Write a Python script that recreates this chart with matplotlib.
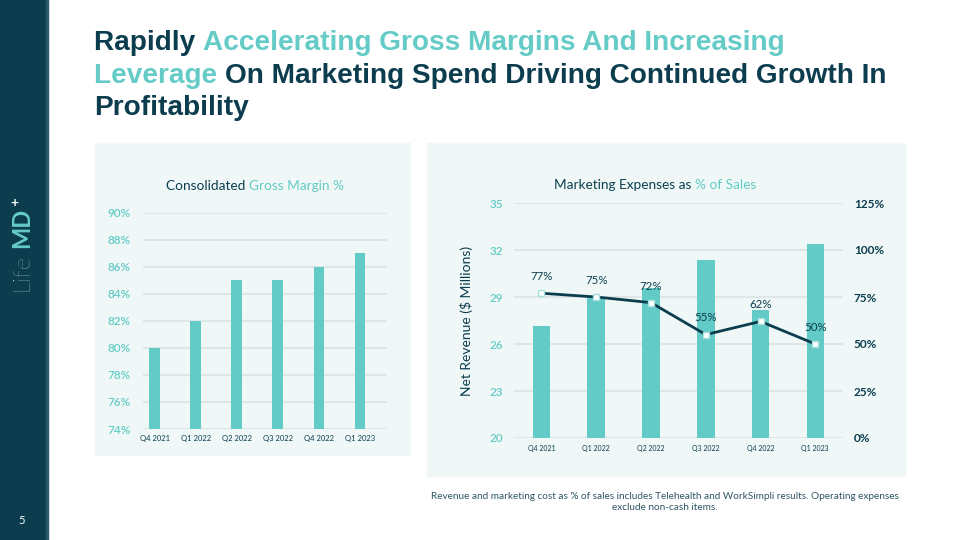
import numpy as np
import matplotlib.pyplot as plt
from matplotlib.patches import Rectangle

plt.rcParams['font.family'] = ['Lato', 'DejaVu Sans']

# data
quarters = ['Q4 2021', 'Q1 2022', 'Q2 2022', 'Q3 2022', 'Q4 2022', 'Q1 2023']
gross_margin = [80, 82, 85, 85, 86, 87]
net_revenue = [27.15, 29.0, 29.6, 31.35, 28.2, 32.4]
mkt_pct = [77, 75, 72, 55, 62, 50]

DARK = '#0b3d4f'
TEAL = '#64cbc6'
BAR = '#63cbc7'
PANEL = '#eff8f7'
GRID = '#dfe6e6'

fig = plt.figure(figsize=(9.6, 5.4), dpi=100)
fig.patch.set_facecolor('white')
W, H = 960, 540


def fx(x):
    return x / W


def fy(y):
    return 1 - y / H


# sidebar + panels (behind the axes)
fig.patches.append(Rectangle((0, 0), fx(46), 1, transform=fig.transFigure, color=DARK, zorder=-2))
fig.patches.append(Rectangle((fx(46), 0), fx(1.5), 1, transform=fig.transFigure, color='#2d5a6a', zorder=-2))
fig.patches.append(Rectangle((fx(95), fy(455)), fx(315), (455 - 143) / H, transform=fig.transFigure,
                             color=PANEL, zorder=-2))
fig.patches.append(Rectangle((fx(427), fy(476)), fx(478), (476 - 143) / H, transform=fig.transFigure,
                             color=PANEL, zorder=-2))

renderer = fig.canvas.get_renderer()


def multi_text(x, y, parts, ha='left', **kw):
    # draw several coloured pieces side by side, x,y in pixels (top-left origin)
    texts = [fig.text(0, 0, s, color=c, **kw) for s, c in parts]
    widths = [t.get_window_extent(renderer).width for t in texts]
    total = sum(widths)
    x0 = x - total / 2 if ha == 'center' else x
    for t, w in zip(texts, widths):
        t.set_position((fx(x0), fy(y)))
        x0 += w


# title
tkw = dict(fontsize=20.2, fontweight='bold', family='Liberation Sans', va='baseline')
multi_text(94, 50, [('Rapidly ', DARK), ('Accelerating Gross Margins And Increasing', TEAL)], **tkw)
multi_text(94, 83, [('Leverage ', TEAL), ('On Marketing Spend Driving Continued Growth In', DARK)], **tkw)
multi_text(94, 115, [('Profitability', DARK)], **tkw)

# logo
fig.text(fx(22), fy(291), 'Life', rotation=90, color='#e6eef0', fontsize=17, fontweight='light',
         ha='center', va='bottom')
fig.text(fx(22), fy(248), 'MD', rotation=90, color=TEAL, fontsize=17, fontweight='bold',
         ha='center', va='bottom')
fig.text(fx(14), fy(203), '+', color='white', fontsize=10, fontweight='bold', ha='center', va='center')
fig.text(fx(22), fy(520), '5', color='white', fontsize=8, ha='center', va='center')

# left chart: gross margin
ax1 = fig.add_axes([fx(142.7), fy(429), 244 / W, 216 / H])
ax1.set_facecolor('none')
x = np.arange(len(quarters))
ax1.bar(x, gross_margin, width=0.25, color=BAR, zorder=3)
ax1.set_ylim(74, 90)
ax1.set_xlim(-0.29, 5.66)
ax1.set_yticks(np.arange(74, 91, 2))
ax1.set_yticklabels([f'{v}%' for v in range(74, 91, 2)], fontweight='semibold')
ax1.set_xticks(x)
ax1.set_xticklabels(quarters)
ax1.tick_params(axis='y', length=0, pad=8.5, labelsize=8.5, labelcolor=TEAL)
ax1.tick_params(axis='x', length=0, pad=4, labelsize=5.5, labelcolor=DARK)
ax1.grid(axis='y', color=GRID, lw=1.5, zorder=0)
for s in ax1.spines.values():
    s.set_visible(False)
multi_text(255, 190, [('Consolidated ', DARK), ('Gross Margin %', TEAL)], ha='center',
           fontsize=9.8, va='baseline')

# right chart: revenue + marketing %
ax2 = fig.add_axes([fx(514), fy(438), 328.7 / W, 235 / H])
ax2.set_facecolor('none')
ax2.bar(x, net_revenue, width=0.32, color=BAR, zorder=2)
ax2.set_ylim(20, 35)
ax2.set_xlim(-0.5, 5.5)
ax2.set_yticks(np.arange(20, 36, 3))
ax2.set_yticklabels([str(v) for v in range(20, 36, 3)], fontweight='semibold')
ax2.set_xticks(x)
ax2.set_xticklabels(quarters)
ax2.tick_params(axis='y', length=0, pad=8, labelsize=8.5, labelcolor=TEAL)
ax2.tick_params(axis='x', length=0, pad=5, labelsize=5, labelcolor=DARK)
ax2.grid(axis='y', color=GRID, lw=1.5, zorder=0)
ax2.set_ylabel('Net Revenue ($ Millions)', color=DARK, fontsize=10, labelpad=12)
for s in ax2.spines.values():
    s.set_visible(False)

ax3 = ax2.twinx()
ax3.plot(x, mkt_pct, color=DARK, lw=2, marker='s', ms=4, mfc='white', mec='#a8e0dc', mew=1, zorder=5)
ax3.set_ylim(0, 125)
ax3.set_yticks(np.arange(0, 126, 25))
ax3.set_yticklabels([f'{v}%' for v in range(0, 126, 25)])
ax3.tick_params(axis='y', length=0, pad=8, labelsize=8.5, labelcolor=DARK)
for lbl in ax3.get_yticklabels():
    lbl.set_fontweight('bold')
for s in ax3.spines.values():
    s.set_visible(False)
for xi, v in zip(x, mkt_pct):
    ax3.annotate(f'{v}%', (xi, v), xytext=(0, 8), textcoords='offset points', ha='center',
                 va='bottom', fontsize=8.3, color=DARK)
multi_text(655, 189, [('Marketing Expenses as ', DARK), ('% of Sales', TEAL)], ha='center',
           fontsize=9.8, va='baseline')

# footnote
fig.text(fx(665), fy(502), 'Revenue and marketing cost as % of sales includes Telehealth and WorkSimpli results. '
         'Operating expenses\nexclude non-cash items.', ha='center', va='center', fontsize=7.2,
         color='#2f5563', linespacing=1.25)

fig.savefig('out.png', dpi=100, facecolor=fig.get_facecolor())
